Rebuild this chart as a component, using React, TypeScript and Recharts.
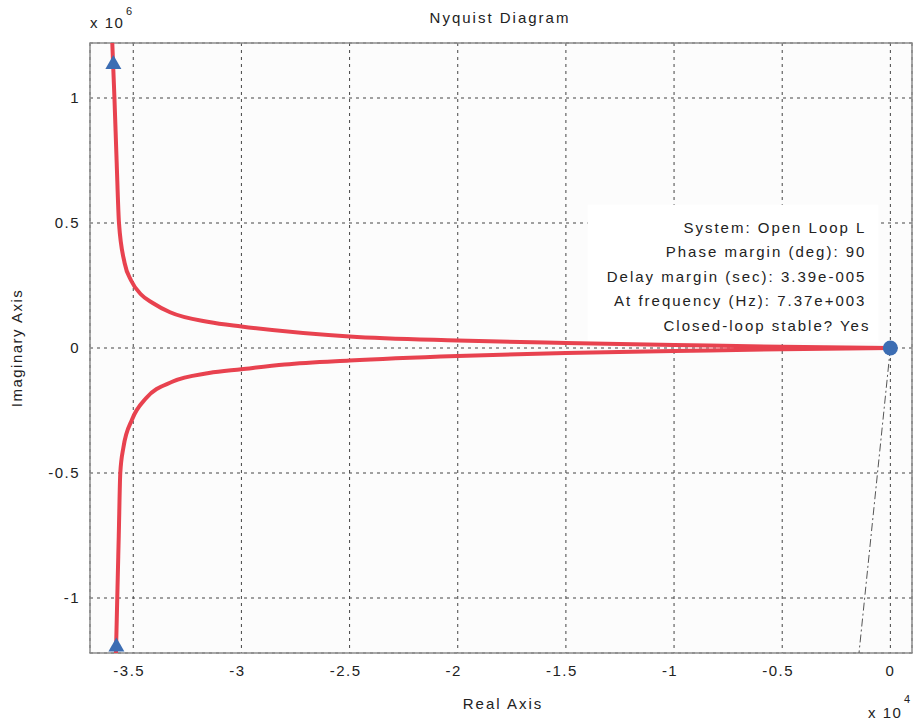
import React from "react";
import {
  CartesianGrid,
  ComposedChart,
  Line,
  ReferenceArea,
  Scatter,
  XAxis,
  YAxis,
} from "recharts";

// #region Data (real axis in units of 1e4, imaginary axis in units of 1e6)
const upperBranch = [
  { re: -3.597, im: 1.22 },
  { re: -3.587, im: 1.0 },
  { re: -3.577, im: 0.75 },
  { re: -3.566, im: 0.5 },
  { re: -3.54, im: 0.34 },
  { re: -3.51, im: 0.27 },
  { re: -3.465, im: 0.215 },
  { re: -3.41, im: 0.18 },
  { re: -3.33, im: 0.143 },
  { re: -3.15, im: 0.104 },
  { re: -3.0, im: 0.086 },
  { re: -2.5, im: 0.046 },
  { re: -2.0, im: 0.03 },
  { re: -1.5, im: 0.02 },
  { re: -1.0, im: 0.012 },
  { re: -0.5, im: 0.005 },
  { re: 0, im: 0 },
];

const lowerBranch = [
  { re: -3.58, im: -1.22 },
  { re: -3.574, im: -1.0 },
  { re: -3.567, im: -0.75 },
  { re: -3.56, im: -0.5 },
  { re: -3.546, im: -0.4 },
  { re: -3.505, im: -0.285 },
  { re: -3.44, im: -0.2 },
  { re: -3.32, im: -0.135 },
  { re: -3.15, im: -0.1 },
  { re: -3.0, im: -0.085 },
  { re: -2.8, im: -0.066 },
  { re: -2.5, im: -0.05 },
  { re: -2.0, im: -0.032 },
  { re: -1.5, im: -0.02 },
  { re: -1.0, im: -0.012 },
  { re: -0.5, im: -0.005 },
  { re: 0, im: 0 },
];

const marginLine = [
  { re: 0, im: 0 },
  { re: -0.145, im: -1.22 },
];

const arrowMarks = [
  { re: -3.592, im: 1.14 },
  { re: -3.578, im: -1.19 },
];

const marginPoint = [{ re: 0, im: 0 }];

const xTicks = [-3.5, -3, -2.5, -2, -1.5, -1, -0.5, 0];
const yTicks = [-1, -0.5, 0, 0.5, 1];

const dataTipLines = [
  "System: Open Loop L",
  "Phase margin (deg): 90",
  "Delay margin (sec): 3.39e-005",
  "At frequency (Hz): 7.37e+003",
  "Closed-loop stable? Yes",
];
// #endregion

const FONT = "'Liberation Sans', Arial, sans-serif";
const RED = "#e8424f";
const BLUE = "#3c6db3";

const XTick = ({ x, y, payload }: any) => {
  const shift = payload.value < 0 ? -4 : 0;
  return (
    <text
      x={x + shift}
      y={y}
      dy="0.71em"
      textAnchor="middle"
      fill="#222"
      fontSize={15}
      letterSpacing={1.5}
      fontFamily={FONT}
    >
      {String(payload.value)}
    </text>
  );
};

const Triangle = ({ cx, cy }: any) => (
  <polygon
    points={`${cx},${cy - 8} ${cx - 8},${cy + 6} ${cx + 8},${cy + 6}`}
    fill={BLUE}
  />
);

const Dot = ({ cx, cy }: any) => <circle cx={cx} cy={cy} r={7.5} fill={BLUE} />;

// data tip text, laid out from the right edge of its white box
const DataTip = ({ viewBox }: any) => {
  if (!viewBox) return null;
  const right = viewBox.x + viewBox.width;
  return (
    <g>
      {dataTipLines.map((line, i) => (
        <text
          key={line}
          x={i === dataTipLines.length - 1 ? right - 8 : right - 12}
          y={viewBox.y + 28 + i * 24.5}
          textAnchor="end"
          fontSize={15}
          letterSpacing={2}
          fill="#222"
          fontFamily={FONT}
        >
          {line}
        </text>
      ))}
    </g>
  );
};

const NyquistChart = () => {
  return (
    <div style={{ position: "absolute", left: 0, top: 0 }}>
      <ComposedChart
        width={913}
        height={723}
        margin={{ top: 43, right: 1, bottom: 40, left: 0 }}
        style={{ fontFamily: FONT }}
      >
        <CartesianGrid stroke="#444" strokeDasharray="3 4" fill="#fcfcfc" />
        <XAxis
          dataKey="re"
          type="number"
          domain={[-3.7, 0.1]}
          ticks={xTicks}
          allowDataOverflow
          height={30}
          axisLine={false}
          tickLine={false}
          tickMargin={6}
          tick={<XTick />}
        />
        <YAxis
          dataKey="im"
          type="number"
          domain={[-1.22, 1.22]}
          ticks={yTicks}
          allowDataOverflow
          width={90}
          axisLine={false}
          tickLine={false}
          tickMargin={4}
          tick={{
            fill: "#222",
            fontSize: 15,
            letterSpacing: 1.5,
            fontFamily: FONT,
          }}
        />
        <ReferenceArea
          x1={-1.4}
          x2={-0.055}
          y1={0.024}
          y2={0.573}
          fill="#ffffff"
          fillOpacity={1}
          stroke="none"
          label={<DataTip />}
        />
        <ReferenceArea
          x1={-3.7}
          x2={0.1}
          y1={-1.22}
          y2={1.22}
          fill="none"
          stroke="#8c8c8c"
          strokeWidth={1.5}
        />
        <Line
          data={marginLine}
          dataKey="im"
          stroke="#555"
          strokeWidth={1}
          strokeDasharray="8 3 2 3"
          dot={false}
          isAnimationActive={false}
        />
        <Line
          data={upperBranch}
          dataKey="im"
          type="monotone"
          stroke={RED}
          strokeWidth={4}
          dot={false}
          isAnimationActive={false}
        />
        <Line
          data={lowerBranch}
          dataKey="im"
          type="monotone"
          stroke={RED}
          strokeWidth={4}
          dot={false}
          isAnimationActive={false}
        />
        <Scatter
          data={arrowMarks}
          dataKey="im"
          shape={<Triangle />}
          isAnimationActive={false}
        />
        <Scatter
          data={marginPoint}
          dataKey="im"
          shape={<Dot />}
          isAnimationActive={false}
        />

        <text
          x={500}
          y={23}
          textAnchor="middle"
          fontSize={15}
          letterSpacing={2}
          fill="#222"
          fontFamily={FONT}
        >
          Nyquist Diagram
        </text>
        <text
          x={503}
          y={709}
          textAnchor="middle"
          fontSize={15}
          letterSpacing={2}
          fill="#222"
          fontFamily={FONT}
        >
          Real Axis
        </text>
        <text
          x={22}
          y={348}
          textAnchor="middle"
          fontSize={15}
          letterSpacing={1.5}
          fill="#222"
          fontFamily={FONT}
          transform="rotate(-90 22 348)"
        >
          Imaginary Axis
        </text>
        <text x={90} y={28} fontSize={15} letterSpacing={1.5} fill="#222" fontFamily={FONT}>
          x 10
        </text>
        <text x={126} y={15} fontSize={11} fill="#222" fontFamily={FONT}>
          6
        </text>
        <text x={868} y={718} fontSize={15} letterSpacing={1.5} fill="#222" fontFamily={FONT}>
          x 10
        </text>
        <text x={904} y={703} fontSize={11} fill="#222" fontFamily={FONT}>
          4
        </text>
      </ComposedChart>
    </div>
  );
};

export default function App() {
  return <NyquistChart />;
}
